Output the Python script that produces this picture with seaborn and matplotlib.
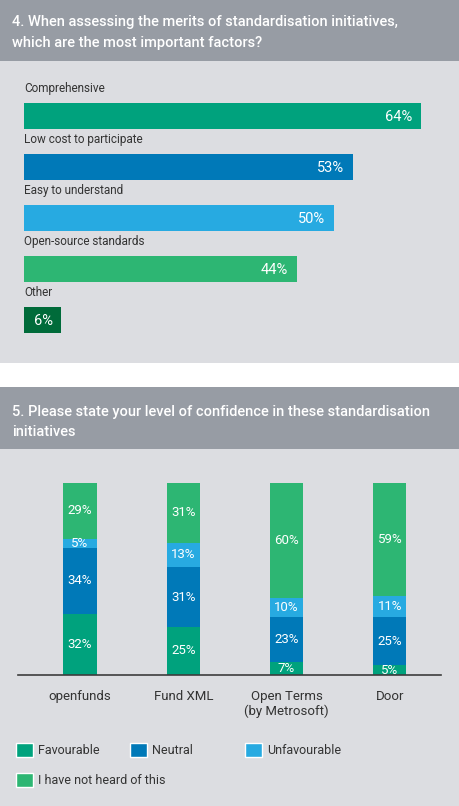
import numpy as np
import pandas as pd
import matplotlib
matplotlib.use("Agg")
import matplotlib.pyplot as plt
import seaborn as sns
from matplotlib.patches import Rectangle, Patch

# --- données ---
factors = ["Comprehensive", "Low cost to participate", "Easy to understand",
           "Open-source standards", "Other"]
factor_values = [64, 53, 50, 44, 6]
factor_colors = ["#00a27d", "#0079b8", "#27aae1", "#2db673", "#006b3a"]

initiatives = ["openfunds", "Fund XML", "Open Terms\n(by Metrosoft)", "Door"]
favourable = [32, 25, 7, 5]
neutral = [34, 31, 23, 25]
unfavourable = [5, 13, 10, 11]
not_heard = [29, 31, 60, 59]
series_names = ["Favourable", "Neutral", "Unfavourable", "I have not heard of this"]
series_colors = ["#00a27d", "#0079b8", "#27aae1", "#2db673"]

title1 = ["4. When assessing the merits of standardisation initiatives,",
          "which are the most important factors?"]
title2 = ["5. Please state your level of confidence in these standardisation",
          "initiatives"]

HEADER = "#979ca4"
PANEL = "#dcdde1"
DARK = "#333333"

sns.set_theme(style="white")
plt.rcParams["font.family"] = ["Roboto", "DejaVu Sans"]

W, H = 460, 806
fig = plt.figure(figsize=(W / 100, H / 100), dpi=100)
fig.patch.set_facecolor("white")


def box(left, top, right, bottom):
    # coordonnées pixel -> fraction de figure
    return [left / W, 1 - bottom / H, (right - left) / W, (bottom - top) / H]


# fonds des bandeaux et panneaux
for (t, b, c) in [(0, 61, HEADER), (61, 363, PANEL), (387, 449, HEADER), (449, 806, PANEL)]:
    x0, y0, w, h = box(0, t, W, b)
    fig.patches.append(Rectangle((x0, y0), w, h, transform=fig.transFigure,
                                 facecolor=c, edgecolor="none", zorder=-10))

# titres
for txt, y in zip(title1, [22, 43]):
    fig.text(12 / W, 1 - y / H, txt, color="white", fontsize=10.5,
             fontweight="medium", va="center", ha="left")
for txt, y in zip(title2, [412, 432]):
    fig.text(12 / W, 1 - y / H, txt, color="white", fontsize=10.5,
             fontweight="medium", va="center", ha="left")

# --- graphique 4 : barres horizontales ---
ax1 = fig.add_axes(box(24, 70, 444, 350))
sns.barplot(x=factor_values, y=factors, hue=factors, palette=factor_colors,
            orient="h", width=0.51, saturation=1, legend=False, linewidth=0,
            ax=ax1)
ax1.set_xlim(0, 420 / 6.2)
ax1.set_ylim((350 - 116) / 51, (70 - 116) / 51)
ax1.axis("off")
for i, (name, v) in enumerate(zip(factors, factor_values)):
    ax1.text(0, i - 0.53, name, color=DARK, fontsize=8.5, va="center", ha="left")
    ax1.text(v - 1.4, i + 0.02, f"{v}%", color="white", fontsize=10.5,
             va="center", ha="right")

# --- graphique 5 : barres empilées ---
ax2 = fig.add_axes(box(18, 483, 441, 675))
df = pd.DataFrame({"Initiative": initiatives, "Favourable": favourable,
                   "Neutral": neutral, "Unfavourable": unfavourable,
                   "I have not heard of this": not_heard})
cum = df[series_names].cumsum(axis=1)
for name, color in zip(series_names[::-1], series_colors[::-1]):
    sns.barplot(x=df["Initiative"], y=cum[name], color=color, width=0.32,
                saturation=1, linewidth=0, ax=ax2)
for name in series_names:
    for i in range(len(df)):
        v = df[name][i]
        ax2.text(i, cum[name][i] - v / 2, f"{v}%", color="white", fontsize=9.5,
                 ha="center", va="center")
ax2.set_ylim(0, 100)
ax2.set_xlim(-0.6, 3.495)
ax2.set_facecolor("none")
ax2.set_xlabel("")
ax2.set_ylabel("")
ax2.set_yticks([])
for s in ["top", "left", "right"]:
    ax2.spines[s].set_visible(False)
ax2.spines["bottom"].set_color("#3d3d3d")
ax2.spines["bottom"].set_linewidth(1.2)
ax2.tick_params(axis="x", length=0, pad=11, labelsize=9.5, labelcolor=DARK)
for lbl in ax2.get_xticklabels():
    lbl.set_linespacing(1.1)

# légende (une entrée par position)
leg_pos = [(16, 750), (130, 750), (245, 750), (16, 780)]
fs = 9
for name, color, (x, y) in zip(series_names, series_colors, leg_pos):
    fig.legend(handles=[Patch(facecolor=color, label=name)], loc="center left",
               bbox_to_anchor=(x / W, 1 - y / H), frameon=False, borderpad=0,
               borderaxespad=0, fontsize=fs, labelcolor=DARK,
               handlelength=1.36, handleheight=1.36, handletextpad=0.4)

fig.savefig("out.png", dpi=100)
